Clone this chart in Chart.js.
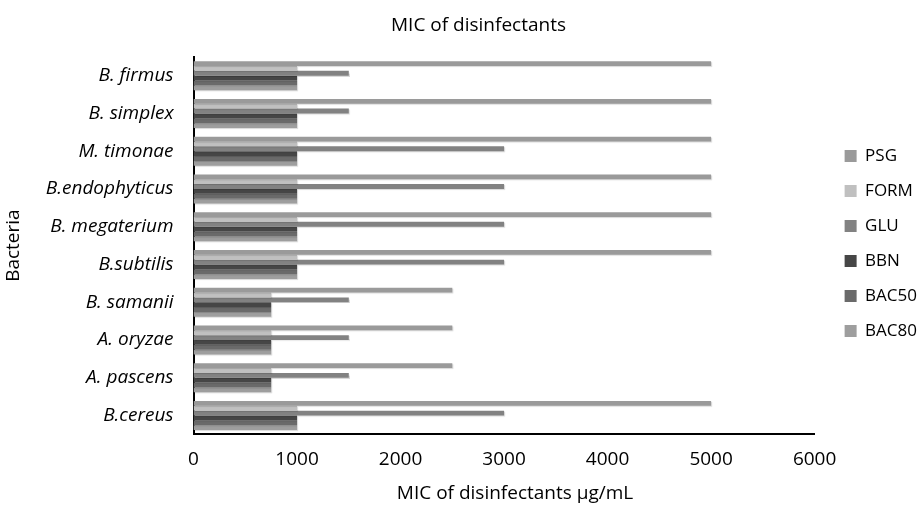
<!DOCTYPE html>
<html>
<head>
<meta charset="utf-8">
<title>MIC of disinfectants</title>
<script src="https://cdn.jsdelivr.net/npm/chart.js@4/dist/chart.umd.min.js"></script>
<style>
  html, body { margin: 0; padding: 0; background: #fff; }
  #wrap { width: 920px; height: 507px; position: relative; }
</style>
</head>
<body>
<div id="wrap"><canvas id="chart"></canvas></div>
<script>
// Bacterial strains, top to bottom
const bacteria = [
  'B. firmus', 'B. simplex', 'M. timonae', 'B.endophyticus', 'B. megaterium',
  'B.subtilis', 'B. samanii', 'A. oryzae', 'A. pascens', 'B.cereus'
];

// Minimum inhibitory concentration (µg/mL) per disinfectant
const psg   = [5000, 5000, 5000, 5000, 5000, 5000, 2500, 2500, 2500, 5000];
const form  = [1000, 1000, 1000, 1000, 1000, 1000,  750,  750,  750, 1000];
const glu   = [1500, 1500, 3000, 3000, 3000, 3000, 1500, 1500, 1500, 3000];
const bbn   = [1000, 1000, 1000, 1000, 1000, 1000,  750,  750,  750, 1000];
const bac50 = [1000, 1000, 1000, 1000, 1000, 1000,  750,  750,  750, 1000];
const bac80 = [1000, 1000, 1000, 1000, 1000, 1000,  750,  750,  750, 1000];

const xTicks = [0, 1000, 2000, 3000, 4000, 5000, 6000];

const FONT = "'Open Sans', 'Liberation Sans', sans-serif";
const LEGEND_SHIFT_X = 12;  // extra gap between plot and legend swatches
const LEGEND_SHIFT_Y = -12; // lift the legend block slightly
const TITLE_SHIFT_X = 20;   // chart title sits a little right of page centre
const XTITLE_SHIFT_X = 11;  // axis title sits a little right of plot centre

// Soft drop shadow under each bar
const barShadow = {
  id: 'barShadow',
  beforeDatasetsDraw(chart) {
    const c = chart.ctx;
    c.save();
    c.shadowColor = 'rgba(0,0,0,0.15)';
    c.shadowOffsetX = 1;
    c.shadowOffsetY = 1;
    c.shadowBlur = 1;
  },
  afterDatasetsDraw(chart) {
    chart.ctx.restore();
  }
};

// Draw an element with the canvas translated by (dx, dy)
function shiftDraw(obj, method, dx, dy, ctx) {
  if (!obj || obj['_shifted_' + method]) return;
  const orig = obj[method].bind(obj);
  obj[method] = function (...args) {
    ctx.save();
    ctx.translate(dx, dy);
    const r = orig(...args);
    ctx.restore();
    return r;
  };
  obj['_shifted_' + method] = true;
}

// Fine placement of legend and titles
const nudges = {
  id: 'nudges',
  beforeLayout(chart) {
    const ctx = chart.ctx;
    shiftDraw(chart.legend, 'draw', LEGEND_SHIFT_X, LEGEND_SHIFT_Y, ctx);
    shiftDraw(chart.titleBlock, 'draw', TITLE_SHIFT_X, 0, ctx);
  },
  afterLayout(chart) {
    shiftDraw(chart.scales.x, 'drawTitle', XTITLE_SHIFT_X, 0, chart.ctx);
  }
};

const mk = (label, data, color) => ({
  label, data, backgroundColor: color, borderWidth: 0,
  categoryPercentage: 0.77, barPercentage: 1.0
});

new Chart(document.getElementById('chart'), {
  type: 'bar',
  data: {
    labels: bacteria,
    datasets: [
      mk('PSG', psg, '#9a9a9a'),
      mk('FORM', form, '#c0c0c0'),
      mk('GLU', glu, '#828282'),
      mk('BBN', bbn, '#464646'),
      mk('BAC50', bac50, '#6a6a6a'),
      mk('BAC80', bac80, '#9e9e9e')
    ]
  },
  options: {
    indexAxis: 'y',
    responsive: true,
    maintainAspectRatio: false,
    animation: false,
    layout: { padding: { top: 4, right: 5, bottom: 0, left: 2 } },
    plugins: {
      title: {
        display: true,
        text: 'MIC of disinfectants',
        color: '#000',
        font: { family: FONT, size: 19, weight: 'normal' },
        padding: { top: 10, bottom: 20 }
      },
      legend: {
        position: 'right',
        align: 'center',
        labels: {
          color: '#000',
          font: { family: FONT, size: 17 },
          boxWidth: 12,
          boxHeight: 12,
          padding: 18
        }
      },
      tooltip: { enabled: false }
    },
    scales: {
      x: {
        min: 0,
        max: 6000,
        afterBuildTicks(scale) { scale.ticks = xTicks.map(v => ({ value: v })); },
        grid: { display: false, drawTicks: false },
        border: { display: true, color: '#000', width: 2 },
        ticks: {
          color: '#000',
          font: { family: FONT, size: 19 },
          padding: 14,
          callback: (v) => String(v)
        },
        title: {
          display: true,
          text: 'MIC of disinfectants µg/mL',
          color: '#000',
          font: { family: FONT, size: 19 },
          padding: { top: -3, bottom: 2 }
        }
      },
      y: {
        grid: { display: false, drawTicks: false },
        border: { display: true, color: '#000', width: 2 },
        ticks: {
          color: '#000',
          font: { family: FONT, size: 19, style: 'italic' },
          padding: 20,
          autoSkip: false
        },
        title: {
          display: true,
          text: 'Bacteria',
          color: '#000',
          font: { family: FONT, size: 19 },
          padding: { top: 0, bottom: 1 }
        }
      }
    }
  },
  plugins: [barShadow, nudges]
});
</script>
</body>
</html>
